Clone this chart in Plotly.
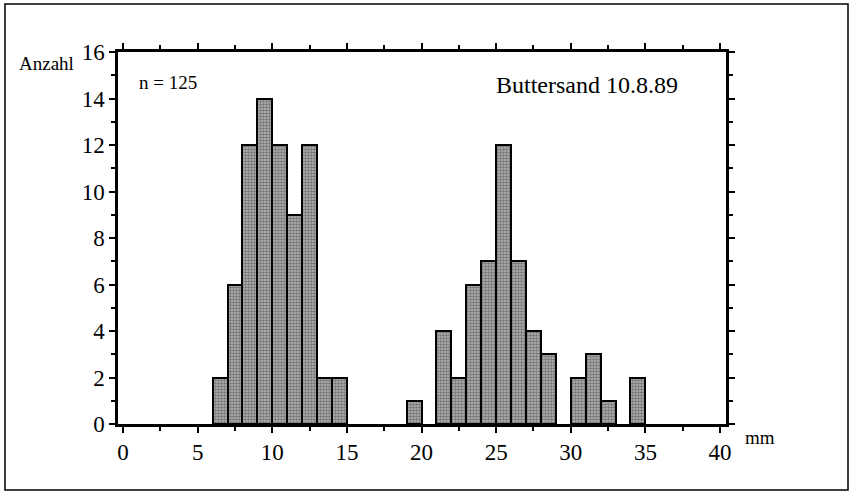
import plotly.graph_objects as go

# Histogram of shell lengths (mm), 1 mm classes
bin_start = [6, 7, 8, 9, 10, 11, 12, 13, 14, 19, 21, 22, 23, 24, 25, 26, 27, 28, 30, 31, 32, 34]
counts = [2, 6, 12, 14, 12, 9, 12, 2, 2, 1, 4, 2, 6, 7, 12, 7, 4, 3, 2, 3, 1, 2]
bin_width = 1

x_ticks = [0, 5, 10, 15, 20, 25, 30, 35, 40]
y_ticks = [0, 2, 4, 6, 8, 10, 12, 14, 16]

FONT = "Liberation Serif"

fig = go.Figure()
fig.add_trace(go.Bar(
    x=bin_start,
    y=counts,
    width=[bin_width] * len(bin_start),
    offset=0,
    marker=dict(
        color="#a0a0a0",
        line=dict(color="black", width=2),
        pattern=dict(shape=".", fgcolor="#303030", bgcolor="#b8b8b8", size=3, solidity=0.55),
    ),
    showlegend=False,
))

axis_common = dict(
    showgrid=False,
    zeroline=False,
    showline=True,
    linecolor="black",
    linewidth=2.5,
    mirror="allticks",
    ticks="outside",
    ticklen=6,
    tickwidth=2,
    tickcolor="black",
    tickfont=dict(family=FONT, size=23, color="black"),
)

fig.update_xaxes(
    range=[-0.34, 40.4],
    tickvals=x_ticks,
    ticktext=[str(v) for v in x_ticks],
    minor=dict(dtick=2.5, tick0=0, ticks="outside", ticklen=4, tickwidth=2, tickcolor="black"),
    **axis_common,
)
fig.update_yaxes(
    range=[0, 16],
    tickvals=y_ticks,
    ticktext=[str(v) for v in y_ticks],
    minor=dict(dtick=1, tick0=0, ticks="outside", ticklen=4, tickwidth=2, tickcolor="black"),
    **axis_common,
)

fig.add_annotation(text="Anzahl", xref="paper", yref="paper", x=-0.069, y=0.970,
                   xanchor="right", yanchor="middle", showarrow=False,
                   font=dict(family=FONT, size=19, color="black"))
fig.add_annotation(text="n = 125", xref="paper", yref="paper", x=0.031, y=0.917,
                   xanchor="left", yanchor="middle", showarrow=False,
                   font=dict(family=FONT, size=19, color="black"))
fig.add_annotation(text="Buttersand 10.8.89", xref="paper", yref="paper", x=0.618, y=0.911,
                   xanchor="left", yanchor="middle", showarrow=False,
                   font=dict(family=FONT, size=24, color="black"))
fig.add_annotation(text="mm", xref="paper", yref="paper", x=1.028, y=-0.035,
                   xanchor="left", yanchor="middle", showarrow=False,
                   font=dict(family=FONT, size=19, color="black"))

# outer frame
fig.add_shape(type="rect", xref="paper", yref="paper",
              x0=-113 / 608, x1=730 / 608, y0=-66 / 372, y1=420 / 372,
              line=dict(color="black", width=1.5), layer="below")

fig.update_layout(
    width=850,
    height=500,
    margin=dict(l=118, r=124, t=52, b=76),
    paper_bgcolor="white",
    plot_bgcolor="white",
    bargap=0,
)

fig.write_html("out.html")
